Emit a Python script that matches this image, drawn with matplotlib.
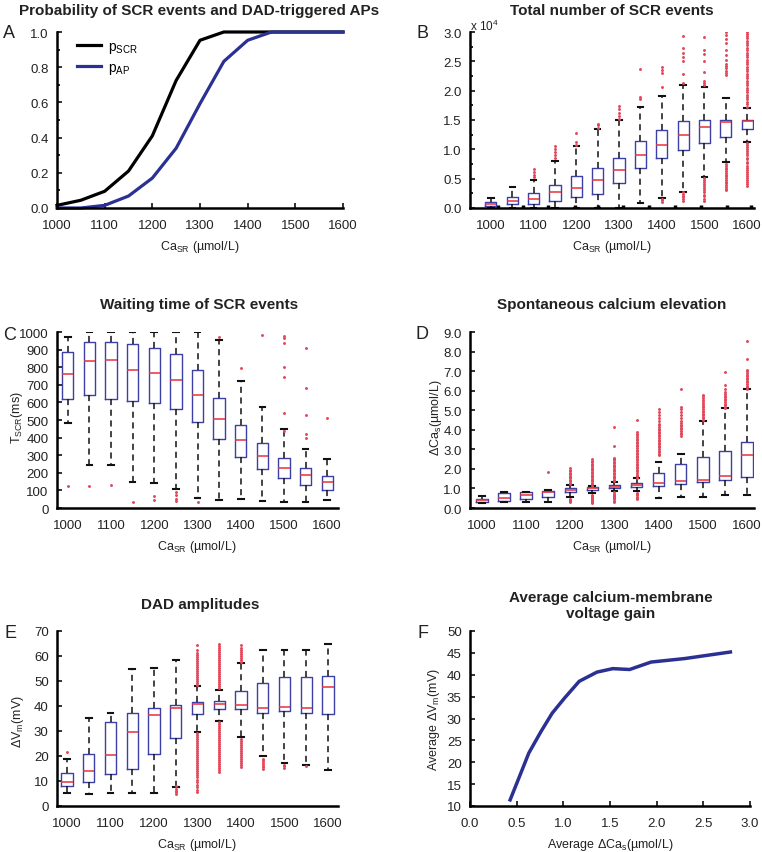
import matplotlib.pyplot as plt
from matplotlib.ticker import MultipleLocator, FormatStrFormatter

plt.rcParams['font.family'] = ['Liberation Sans', 'DejaVu Sans']
plt.rcParams['mathtext.default'] = 'regular'

W, H = 762, 853

ca_sr = [1000, 1050, 1100, 1150, 1200, 1250, 1300, 1350, 1400, 1450, 1500, 1550, 1600]
ca_ticks = [1000, 1100, 1200, 1300, 1400, 1500, 1600]

# A: probabilities
p_scr = [0.015, 0.044, 0.095, 0.21, 0.41, 0.725, 0.953, 1.0, 1.0, 1.0, 1.0, 1.0, 1.0]
p_ap = [0.0, 0.0, 0.015, 0.068, 0.17, 0.34, 0.593, 0.833, 0.953, 1.0, 1.0, 1.0, 1.0]

# B: total number of SCR events (x 10^4)
b_med = [0.07, 0.12, 0.15, 0.27, 0.34, 0.47, 0.65, 0.90, 1.08, 1.25, 1.38, 1.47, 1.48]
b_q1 = [0.04, 0.06, 0.07, 0.12, 0.18, 0.24, 0.43, 0.68, 0.86, 0.99, 1.10, 1.21, 1.35]
b_q3 = [0.10, 0.18, 0.26, 0.40, 0.55, 0.69, 0.86, 1.14, 1.33, 1.48, 1.50, 1.50, 1.50]
b_lo = [0.0, 0.0, 0.0, 0.0, 0.0, 0.0, 0.0, 0.09, 0.17, 0.28, 0.52, 0.78, 1.13]
b_hi = [0.17, 0.35, 0.47, 0.80, 1.06, 1.34, 1.50, 1.73, 1.91, 2.09, 2.07, 1.88, 1.70]
b_out = [
    [],
    [],
    [0.52, 0.57, 0.62, 0.67],
    [0.86, 0.90, 0.95, 1.00, 1.05],
    [1.08, 1.12, 1.27],
    [1.37, 1.41, 1.44],
    [1.52, 1.56, 1.62, 1.68, 1.74],
    [1.86, 1.90, 2.37],
    [0.11, 0.13, 0.16, 2.06, 2.30, 2.35, 2.40],
    [0.12, 0.15, 0.18, 0.21, 0.24, 0.27, 2.13, 2.28, 2.50, 2.57, 2.65, 2.73, 2.93],
    [0.12, 0.16, 0.20, 0.23, 0.27, 0.30, 0.34, 0.37, 0.41, 0.44, 0.48, 0.51,
     2.10, 2.13, 2.16, 2.31, 2.50, 2.62, 2.70, 2.92],
    [0.30, 0.33, 0.36, 0.39, 0.42, 0.45, 0.48, 0.51, 0.54, 0.57, 0.60, 0.63, 0.66,
     0.69, 0.72, 0.75, 2.26, 2.30, 2.34, 2.38, 2.42, 2.46, 2.52, 2.60, 2.70, 2.82,
     2.88, 2.95, 3.0],
    [0.37, 0.41, 0.44, 0.48, 0.51, 0.55, 0.58, 0.62, 0.65, 0.69, 0.72, 0.76, 0.79,
     0.83, 0.86, 0.90, 0.93, 0.97, 1.00, 1.04, 1.07, 1.10,
     1.73, 1.77, 1.81, 1.85, 1.89, 1.93, 1.97, 2.01, 2.05, 2.09, 2.13, 2.17, 2.21,
     2.25, 2.29, 2.33, 2.37, 2.41, 2.45, 2.49, 2.53, 2.57, 2.61, 2.65, 2.69, 2.73,
     2.77, 2.81, 2.85, 2.89, 2.93, 2.97, 3.0],
]
b_dash = [1016, 1075, 1134, 1197, 1251, 1309, 1370, 1431, 1492, 1553, 1609]

# C: waiting time (ms)
c_med = [762, 836, 840, 785, 766, 726, 640, 506, 387, 298, 228, 185, 147]
c_q1 = [617, 643, 617, 608, 594, 562, 491, 391, 287, 219, 170, 132, 104]
c_q3 = [889, 945, 942, 934, 909, 877, 785, 623, 470, 368, 283, 226, 181]
c_lo = [483, 242, 242, 147, 140, 106, 58, 47, 53, 40, 34, 34, 43]
c_hi = [970, 1000, 1000, 1000, 1000, 1000, 1000, 955, 723, 572, 449, 336, 279]
c_out = [[123], [123], [132], [34], [68, 43], [91, 72, 53, 38], [34], [974], [798],
         [983], [975, 965, 940, 800, 745, 540, 440], [908, 680, 530, 420, 400], [512]]

# D: spontaneous calcium elevation (umol/L)
d_med = [0.40, 0.53, 0.66, 0.81, 0.92, 1.00, 1.09, 1.19, 1.26, 1.36, 1.43, 1.63, 2.72]
d_q1 = [0.32, 0.37, 0.44, 0.58, 0.80, 0.90, 1.00, 1.09, 1.14, 1.22, 1.31, 1.41, 1.56]
d_q3 = [0.47, 0.75, 0.83, 0.87, 1.00, 1.09, 1.17, 1.29, 1.78, 2.26, 2.61, 2.92, 3.40]
d_lo = [0.27, 0.29, 0.29, 0.29, 0.54, 0.75, 0.85, 0.85, 0.51, 0.54, 0.54, 0.66, 0.66]
d_hi = [0.63, 0.80, 0.83, 0.90, 1.19, 1.12, 1.34, 1.51, 2.33, 2.78, 4.45, 5.09, 6.06]
d_out = [
    [], [], [],
    [1.82],
    [0.30, 0.36, 0.42, 0.48, 1.24, 1.30, 1.37, 1.44, 1.51, 1.58, 1.65, 1.72, 1.80,
     1.87, 1.95, 2.02],
    [0.27, 0.32, 0.37, 0.42, 0.47, 0.52, 0.57, 0.62, 0.67, 1.15, 1.22, 1.29, 1.36,
     1.43, 1.50, 1.57, 1.64, 1.71, 1.78, 1.85, 1.92, 1.99, 2.06, 2.13, 2.20, 2.27,
     2.34, 2.41, 2.53],
    [0.32, 0.38, 0.44, 0.50, 0.56, 0.62, 0.68, 0.74, 0.80, 1.38, 1.45, 1.52, 1.59,
     1.66, 1.73, 1.80, 1.87, 1.94, 2.01, 2.08, 2.15, 2.22, 2.29, 2.36, 2.43, 2.50,
     2.58, 3.17, 4.14],
    [0.46, 0.52, 0.58, 0.64, 0.70, 0.76, 1.55, 1.63, 1.71, 1.79, 1.87, 1.95, 2.03,
     2.11, 2.19, 2.27, 2.35, 2.43, 2.51, 2.59, 2.67, 2.75, 2.83, 2.91, 2.99, 3.07,
     3.15, 3.23, 3.31, 3.39, 3.47, 3.55, 3.63, 3.71, 3.79, 3.88, 4.50],
    [2.70, 2.78, 2.86, 2.94, 3.02, 3.10, 3.18, 3.26, 3.34, 3.42, 3.50, 3.58, 3.66,
     3.74, 3.82, 3.90, 3.98, 4.06, 4.14, 4.22, 4.30, 4.45, 4.60, 4.75, 4.90, 5.07],
    [3.70, 3.78, 3.86, 3.94, 4.02, 4.10, 4.18, 4.26, 4.34, 4.45, 4.60, 4.75, 4.90,
     5.05, 5.18, 6.06],
    [4.50, 4.58, 4.66, 4.74, 4.82, 4.90, 4.98, 5.06, 5.14, 5.22, 5.30, 5.40, 5.50,
     5.62, 5.72, 5.80],
    [5.10, 5.18, 5.26, 5.34, 5.42, 5.50, 5.58, 5.66, 5.74, 5.85, 5.95, 6.06, 6.28, 6.96],
    [6.10, 6.18, 6.26, 6.34, 6.42, 6.50, 6.58, 6.66, 6.74, 6.82, 6.90, 7.00, 7.08,
     7.64, 8.52],
]

# E: DAD amplitudes (mV)
e_med = [9.8, 14.0, 20.4, 29.7, 36.6, 39.3, 40.9, 40.7, 40.3, 39.2, 39.5, 39.3, 47.8]
e_q1 = [8.2, 9.5, 12.7, 15.0, 20.7, 27.3, 37.0, 38.7, 38.7, 37.4, 38.0, 37.2, 36.8]
e_q3 = [13.1, 20.9, 33.8, 37.2, 39.3, 40.4, 41.7, 42.1, 46.2, 49.4, 51.8, 51.8, 51.9]
e_lo = [5.3, 4.9, 5.3, 5.3, 5.3, 7.5, 29.8, 33.9, 27.5, 19.9, 17.4, 16.4, 14.4]
e_hi = [18.8, 35.4, 37.2, 54.8, 55.2, 58.5, 48.2, 46.6, 57.2, 62.5, 62.3, 62.5, 64.9]
e_out = [
    [21.7], [], [], [], [],
    [4.8, 5.5, 6.2, 6.9, 8.2],
    [5.6, 6.6, 7.6, 8.6, 9.6, 10.6, 11.6, 12.4, 13.2, 14.0, 14.8, 15.6, 16.4, 17.2,
     18.0, 18.8, 19.6, 20.4, 21.2, 22.0, 22.8, 23.6, 24.4, 25.2, 26.0, 26.8, 27.6,
     28.4, 29.2, 48.6, 49.4, 50.2, 51.0, 51.8, 52.6, 53.4, 54.2, 55.0, 55.8, 56.6,
     57.4, 58.2, 59.0, 59.8, 60.6, 61.4, 62.5, 64.5],
    [13.6, 14.4, 15.2, 16.0, 16.8, 17.6, 18.4, 19.2, 20.0, 20.8, 21.6, 22.4, 23.2,
     24.0, 24.8, 25.6, 26.4, 27.2, 28.0, 28.8, 29.6, 30.4, 31.2, 32.0, 32.8, 33.5,
     47.2, 48.0, 48.8, 49.6, 50.4, 51.2, 52.0, 52.8, 53.6, 54.4, 55.2, 56.0, 56.8,
     57.6, 58.4, 59.2, 60.0, 60.8, 61.6, 62.4, 63.2, 64.0, 64.8],
    [15.6, 16.4, 17.2, 18.0, 18.8, 19.6, 20.4, 21.2, 22.0, 22.8, 23.6, 24.4, 25.2,
     26.0, 26.8, 57.8, 58.6, 59.4, 60.2, 61.0, 61.8, 62.6, 63.4, 64.4],
    [14.8, 15.5, 16.2, 16.9, 17.6, 18.3, 19.0],
    [15.2, 15.9, 16.6],
    [16.0],
    [],
]

# F: average gain
f_dca = [0.43, 0.52, 0.63, 0.76, 0.88, 1.01, 1.17, 1.36, 1.53, 1.71, 1.94, 2.30, 2.79]
f_dvm = [11.4, 16.2, 22.1, 27.0, 31.2, 34.6, 38.5, 40.6, 41.4, 41.2, 42.9, 43.7, 45.2]

blue = '#2a3192'
box_blue = '#3b3fa6'
red = '#e8303a'
flier_red = '#e2485a'

fig = plt.figure(figsize=(W / 100, H / 100), dpi=100)


def px_axes(l, t, r, b):
    return fig.add_axes([l / W, 1 - b / H, (r - l) / W, (b - t) / H])


def px_text(x, y, s, **kw):
    fig.text(x / W, 1 - y / H, s, ha='center', va='center', **kw)


def style(ax):
    for s in ['top', 'right']:
        ax.spines[s].set_visible(False)
    for s in ['left', 'bottom']:
        ax.spines[s].set_linewidth(1.8)
    ax.tick_params(direction='in', length=3.5, width=1.3, labelsize=9.5, pad=6,
                   colors='#222222')
    ax.tick_params(axis='x', pad=8)
    ax.tick_params(which='minor', direction='in', length=2.5, width=1.2)


def draw_boxes(ax, med, q1, q3, lo, hi, out):
    stats = []
    for i in range(len(ca_sr)):
        stats.append(dict(med=med[i], q1=q1[i], q3=q3[i], whislo=lo[i],
                          whishi=hi[i], fliers=out[i]))
    ax.bxp(stats, positions=ca_sr, widths=26, capwidths=13, manage_ticks=False,
           boxprops=dict(color=box_blue, lw=1.0),
           medianprops=dict(color=red, lw=1.1),
           whiskerprops=dict(color='#111111', lw=1.1, ls=(0, (4, 3))),
           capprops=dict(color='#111111', lw=1.5),
           flierprops=dict(marker='.', markersize=2.2, markerfacecolor=flier_red,
                           markeredgecolor=flier_red, ls='none'))
    ax.set_xticks(ca_ticks)


# ---- A
axA = px_axes(57, 33, 343, 209)
axA.plot(ca_sr, p_scr, color='black', lw=2.3, label='p$_{SCR}$', clip_on=False)
axA.plot(ca_sr, p_ap, color=blue, lw=2.3, label='p$_{AP}$', clip_on=False)
axA.set_xlim(1000, 1600)
axA.set_ylim(0, 1.0)
axA.set_xticks(ca_ticks)
axA.yaxis.set_major_locator(MultipleLocator(0.2))
axA.yaxis.set_minor_locator(MultipleLocator(0.1))
axA.yaxis.set_major_formatter(FormatStrFormatter('%.1f'))
style(axA)
axA.legend(loc='upper left', bbox_to_anchor=(0.07, 0.96), frameon=False,
           fontsize=10, handlelength=1.7, handletextpad=0.5, labelspacing=0.35,
           borderaxespad=0, borderpad=0)

# ---- B
axB = px_axes(470, 33, 754, 209)
draw_boxes(axB, b_med, b_q1, b_q3, b_lo, b_hi, b_out)
axB.set_xlim(951, 1616)
axB.set_ylim(0, 3.0)
axB.yaxis.set_major_locator(MultipleLocator(0.5))
axB.yaxis.set_minor_locator(MultipleLocator(0.25))
axB.yaxis.set_major_formatter(FormatStrFormatter('%.1f'))
style(axB)
axB.tick_params(axis='x', length=0)
axB.set_xticks(b_dash, minor=True)
axB.tick_params(axis='x', which='minor', length=2, width=2.5, direction='in')
px_text(484, 26, 'x 10$^4$', fontsize=8.5, color='#222222')

# ---- C
axC = px_axes(57, 333, 338, 509)
draw_boxes(axC, c_med, c_q1, c_q3, c_lo, c_hi, c_out)
axC.set_xlim(975, 1625)
axC.set_ylim(0, 1000)
axC.yaxis.set_major_locator(MultipleLocator(100))
style(axC)
axC.tick_params(axis='x', length=0)

# ---- D
axD = px_axes(470, 333, 754, 509)
draw_boxes(axD, d_med, d_q1, d_q3, d_lo, d_hi, d_out)
axD.set_xlim(973, 1616)
axD.set_ylim(0, 9.0)
axD.yaxis.set_major_locator(MultipleLocator(1.0))
axD.yaxis.set_major_formatter(FormatStrFormatter('%.1f'))
style(axD)
axD.tick_params(axis='x', length=0)

# ---- E
axE = px_axes(57, 632, 338, 807)
draw_boxes(axE, e_med, e_q1, e_q3, e_lo, e_hi, e_out)
axE.set_xlim(977, 1623)
axE.set_ylim(0, 70)
axE.yaxis.set_major_locator(MultipleLocator(10))
style(axE)
axE.tick_params(axis='x', length=0)

# ---- F
axF = px_axes(470, 632, 750, 807)
axF.plot(f_dca, f_dvm, color=blue, lw=2.5)
axF.set_xlim(0, 3.0)
axF.set_ylim(10, 50)
axF.xaxis.set_major_locator(MultipleLocator(0.5))
axF.xaxis.set_major_formatter(FormatStrFormatter('%.1f'))
axF.yaxis.set_major_locator(MultipleLocator(5))
style(axF)

# titles
tkw = dict(fontsize=11, fontweight='bold', color='#222222')
px_text(199, 11, 'Probability of SCR events and DAD-triggered APs', **tkw)
px_text(612, 11, 'Total number of SCR events', **tkw)
px_text(199, 305, 'Waiting time of SCR events', **tkw)
px_text(612, 305, 'Spontaneous calcium elevation', **tkw)
px_text(200, 605, 'DAD amplitudes', **tkw)
px_text(611, 606, 'Average calcium-membrane\nvoltage gain', linespacing=1.1, **tkw)

# axis labels
lkw = dict(fontsize=9, color='#222222')
xlab = 'Ca$_{SR}$ (\u00b5mol/L)'
px_text(200, 247, xlab, **lkw)
px_text(612, 247, xlab, **lkw)
px_text(197, 547, xlab, **lkw)
px_text(612, 547, xlab, **lkw)
px_text(197, 845, xlab, **lkw)
px_text(610, 845, 'Average \u0394Ca$_{s}$(\u00b5mol/L)', **lkw)
px_text(17, 418, 'T$_{SCR}$(ms)', rotation=90, **lkw)
px_text(436, 418, '\u0394Ca$_{s}$(\u00b5mol/L)', rotation=90, **lkw)
px_text(18, 722, '\u0394V$_{m}$(mV)', rotation=90, **lkw)
px_text(434, 720, 'Average \u0394V$_{m}$(mV)', rotation=90, **lkw)

# panel letters
for letter, x, y in [('A', 9, 34), ('B', 422, 33), ('C', 10, 336),
                     ('D', 422, 335), ('E', 10, 634), ('F', 423, 634)]:
    px_text(x, y, letter, fontsize=13, color='#222222')

fig.savefig('out.png', dpi=100)
